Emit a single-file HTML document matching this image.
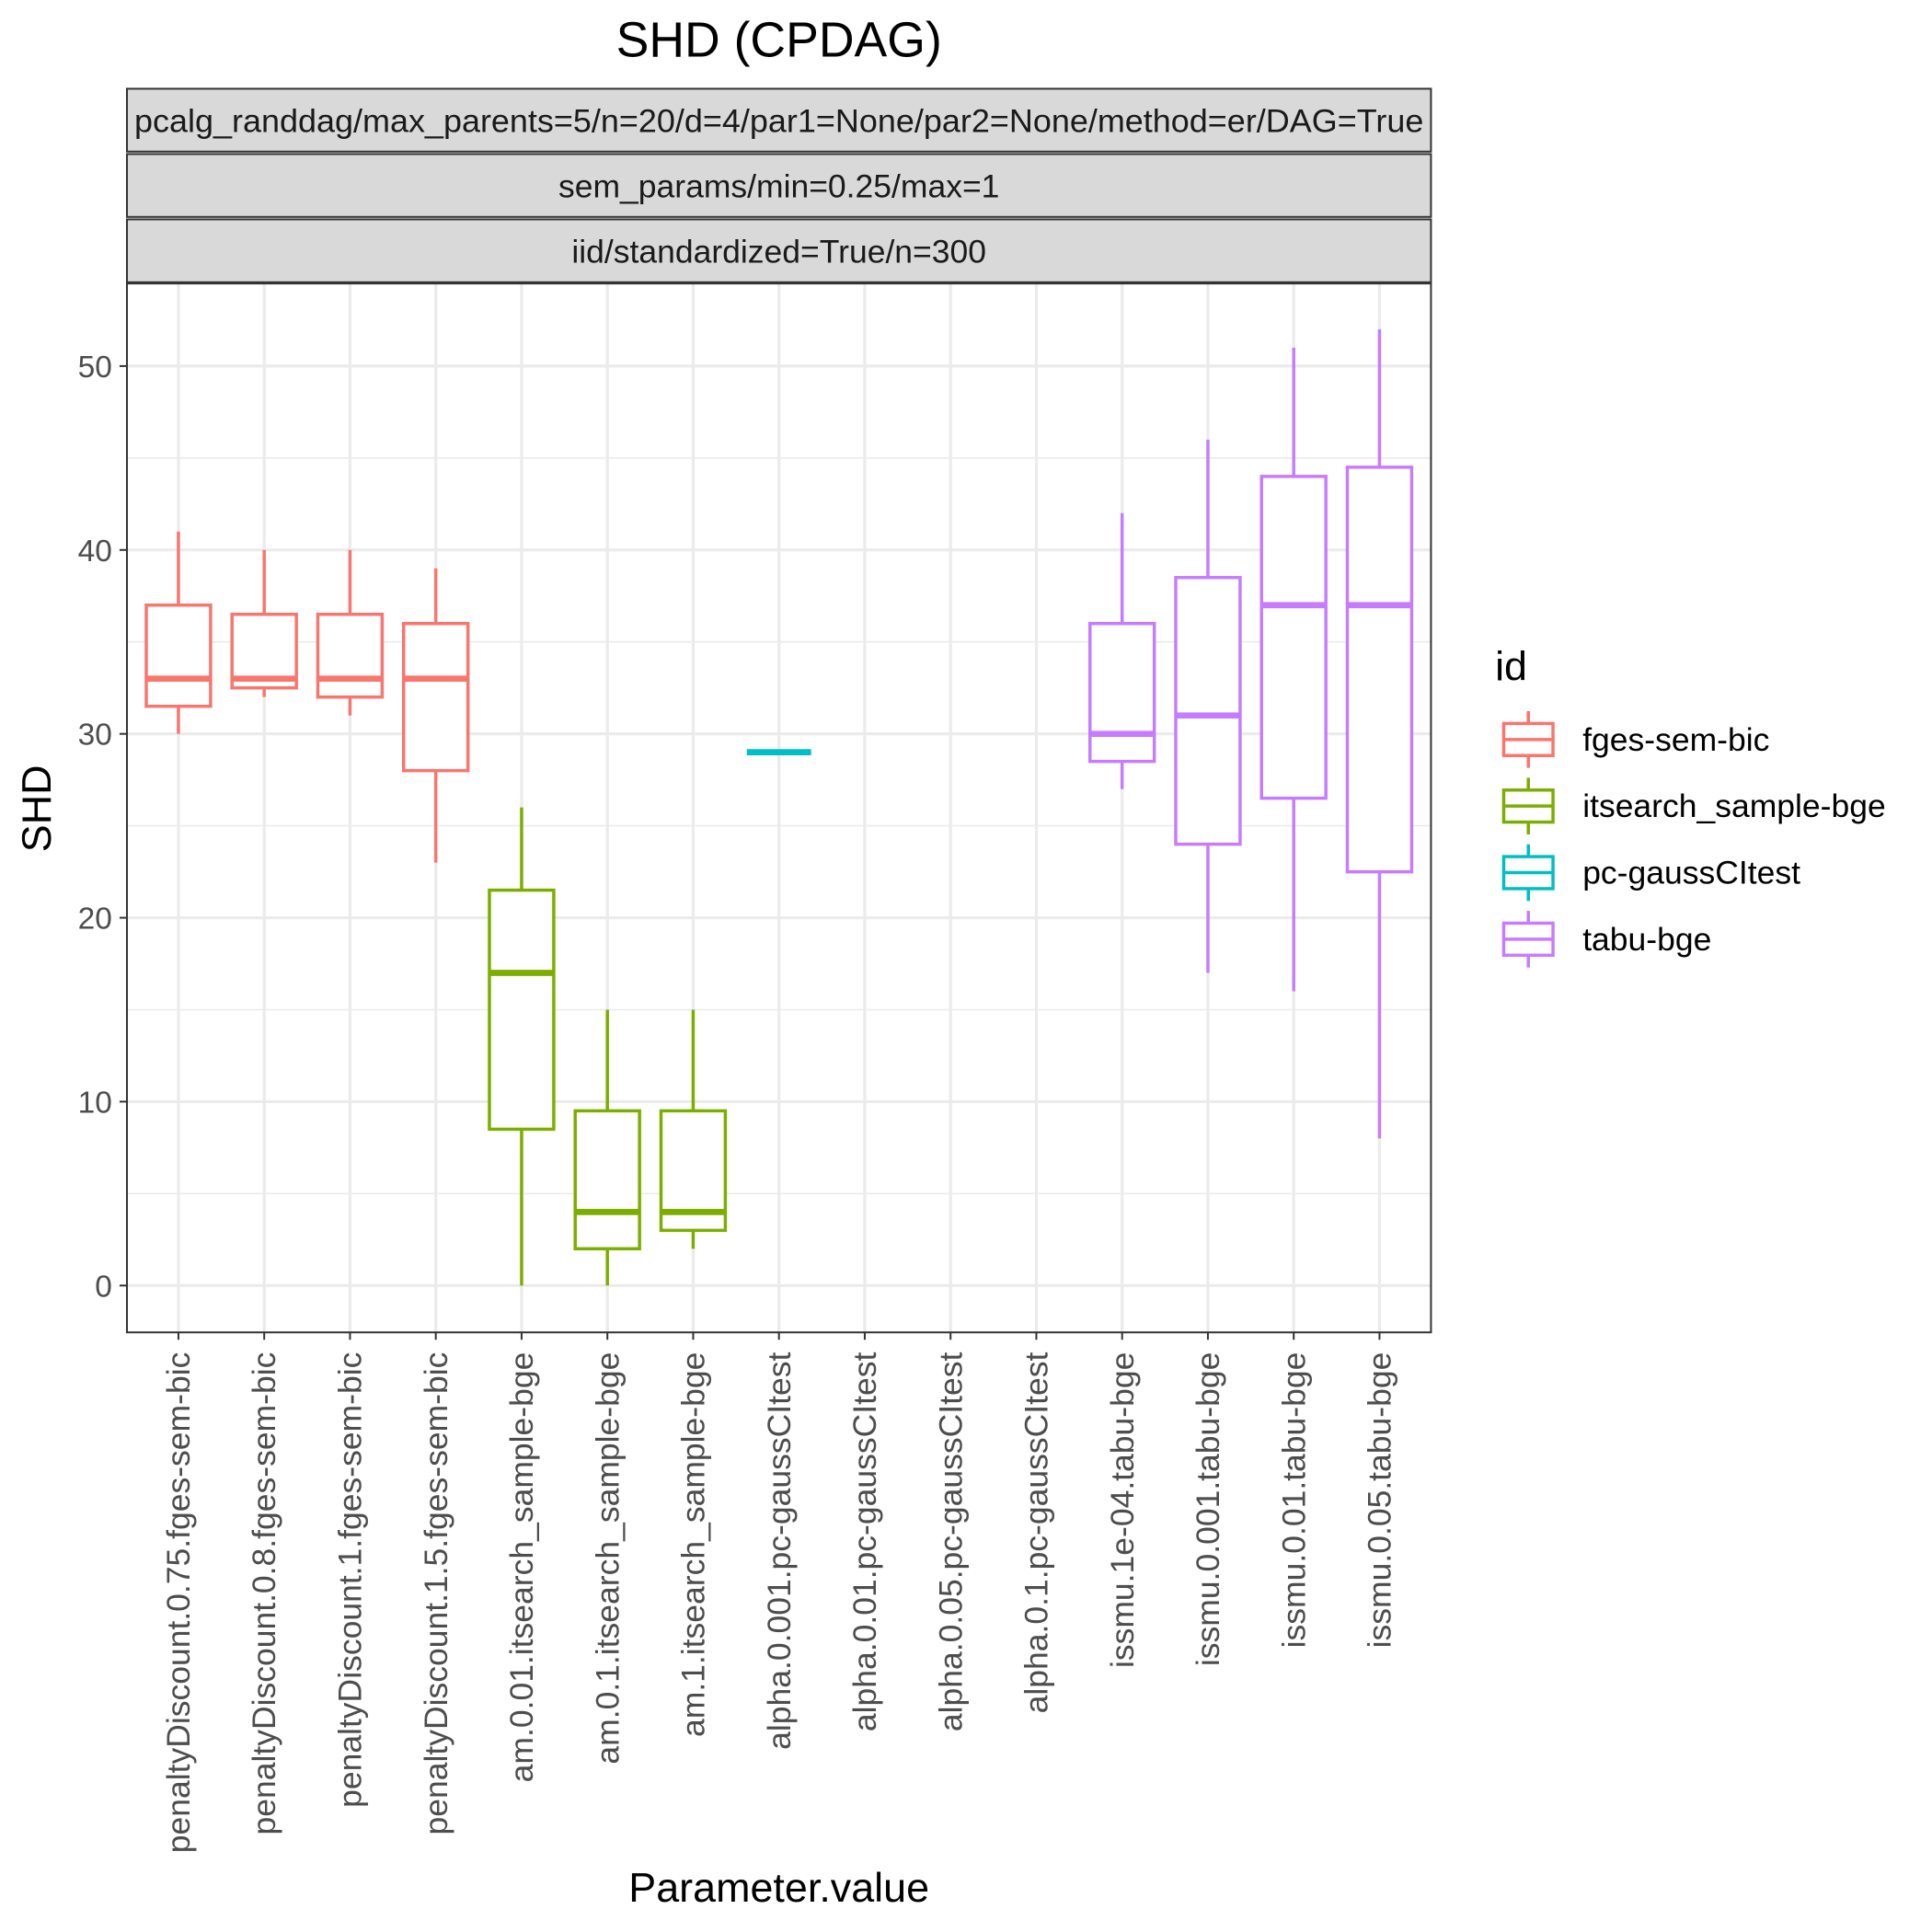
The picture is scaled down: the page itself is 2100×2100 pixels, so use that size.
<!DOCTYPE html>
<html><head><meta charset="utf-8"><style>
html,body{margin:0;padding:0;background:#fff}
svg{display:block;font-family:"Liberation Sans",sans-serif}
</style></head><body>
<svg id="chart" width="2100" height="2100" viewBox="0 0 1567.5 1567.5" xmlns="http://www.w3.org/2000/svg">
<rect width="1568" height="1568" fill="#fff"/>
<text x="632" y="46" font-size="40" text-anchor="middle" fill="#000">SHD (CPDAG)</text>
<g>
<rect x="103" y="72" width="1058" height="51" fill="#d9d9d9" stroke="#333" stroke-width="1.5"/>
<text x="632" y="107" font-size="26.5" text-anchor="middle" fill="#1a1a1a" textLength="1046" lengthAdjust="spacingAndGlyphs">pcalg_randdag/max_parents=5/n=20/d=4/par1=None/par2=None/method=er/DAG=True</text>
<rect x="103" y="125" width="1058" height="51" fill="#d9d9d9" stroke="#333" stroke-width="1.5"/>
<text x="632" y="160" font-size="26.5" text-anchor="middle" fill="#1a1a1a">sem_params/min=0.25/max=1</text>
<rect x="103" y="178" width="1058" height="51" fill="#d9d9d9" stroke="#333" stroke-width="1.5"/>
<text x="632" y="213" font-size="26.5" text-anchor="middle" fill="#1a1a1a">iid/standardized=True/n=300</text>
</g>
<g id="grid"></g>
<g id="boxes"></g>
<rect x="103" y="230" width="1058" height="851" fill="none" stroke="#333" stroke-width="1.5"/>
<g id="axes"></g>
<text x="632" y="1543" font-size="33.5" text-anchor="middle" fill="#000">Parameter.value</text>
<text transform="translate(41,656) rotate(-90)" font-size="33.5" text-anchor="middle" fill="#000">SHD</text>
<g id="legend"></g>
</svg>
<script>
const categories = ["penaltyDiscount.0.75.fges-sem-bic","penaltyDiscount.0.8.fges-sem-bic","penaltyDiscount.1.fges-sem-bic","penaltyDiscount.1.5.fges-sem-bic","am.0.01.itsearch_sample-bge","am.0.1.itsearch_sample-bge","am.1.itsearch_sample-bge","alpha.0.001.pc-gaussCItest","alpha.0.01.pc-gaussCItest","alpha.0.05.pc-gaussCItest","alpha.0.1.pc-gaussCItest","issmu.1e-04.tabu-bge","issmu.0.001.tabu-bge","issmu.0.01.tabu-bge","issmu.0.05.tabu-bge"];
const groups = ["fges-sem-bic","fges-sem-bic","fges-sem-bic","fges-sem-bic","itsearch_sample-bge","itsearch_sample-bge","itsearch_sample-bge","pc-gaussCItest",null,null,null,"tabu-bge","tabu-bge","tabu-bge","tabu-bge"];
const whiskerLow = [30,32,31,23,0,0,2,29,null,null,null,27,17,16,8];
const q1 = [31.5,32.5,32,28,8.5,2,3,29,null,null,null,28.5,24,26.5,22.5];
const median = [33,33,33,33,17,4,4,29,null,null,null,30,31,37,37];
const q3 = [37,36.5,36.5,36,21.5,9.5,9.5,29,null,null,null,36,38.5,44,44.5];
const whiskerHigh = [41,40,40,39,26,15,15,29,null,null,null,42,46,51,52];
const yTicks = [0,10,20,30,40,50];
const yMinor = [5,15,25,35,45];
const legendIds = ["fges-sem-bic","itsearch_sample-bge","pc-gaussCItest","tabu-bge"];
const legendColors = ["#F8766D","#7CAE00","#00BFC4","#C77CFF"];

const NS="http://www.w3.org/2000/svg";
const x0=103,x1=1161;
const yScale=v=>1043-v*(1043-297)/50;
const unit=(x1-x0)/(categories.length-1+1.2);
const xScale=i=>x0+unit*(0.6+i);
const colorOf=g=>legendColors[legendIds.indexOf(g)];
function mk(tag,attrs,parent){const e=document.createElementNS(NS,tag);for(const k in attrs)e.setAttribute(k,attrs[k]);parent.appendChild(e);return e;}

const grid=document.getElementById('grid');
yMinor.forEach(v=>{const l=mk('line',{x1:x0,x2:x1,y1:yScale(v),y2:yScale(v),stroke:'#ebebeb','stroke-width':1.2},grid);

});
yTicks.forEach(v=>{const l=mk('line',{x1:x0,x2:x1,y1:yScale(v),y2:yScale(v),stroke:'#ebebeb','stroke-width':2.4},grid);

});
categories.forEach((c,i)=>{const l=mk('line',{x1:xScale(i),x2:xScale(i),y1:230,y2:1081,stroke:'#ebebeb','stroke-width':2.4},grid);

});

const boxes=document.getElementById('boxes');
const bw=unit*0.75;
categories.forEach((c,i)=>{
  if(groups[i]===null)return;
  const col=colorOf(groups[i]);const cx=xScale(i);
  const g=mk('g',{},boxes);
  
  
  mk('line',{x1:cx,x2:cx,y1:yScale(whiskerHigh[i]),y2:yScale(q3[i]),stroke:col,'stroke-width':2.6},g);
  mk('line',{x1:cx,x2:cx,y1:yScale(q1[i]),y2:yScale(whiskerLow[i]),stroke:col,'stroke-width':2.6},g);
  mk('rect',{x:cx-bw/2,y:yScale(q3[i]),width:bw,height:Math.max(0,yScale(q1[i])-yScale(q3[i])),fill:'#fff',stroke:col,'stroke-width':2.6},g);
  mk('line',{x1:cx-bw/2,x2:cx+bw/2,y1:yScale(median[i]),y2:yScale(median[i]),stroke:col,'stroke-width':5},g);
});

const axes=document.getElementById('axes');
yTicks.forEach(v=>{
  mk('line',{x1:97,x2:103,y1:yScale(v),y2:yScale(v),stroke:'#333','stroke-width':1.5},axes);
  const t=mk('text',{x:91,y:yScale(v)+9,'font-size':25,'text-anchor':'end',fill:'#4d4d4d'},axes);
  t.textContent=v;
  
  
});
categories.forEach((c,i)=>{
  const x=xScale(i);
  mk('line',{x1:x,x2:x,y1:1081,y2:1087,stroke:'#333','stroke-width':1.5},axes);
  const t=mk('text',{transform:`translate(${x+9},1097) rotate(-90)`,'font-size':26.5,'text-anchor':'end',fill:'#4d4d4d'},axes);
  t.textContent=c;
  
  
});

const legend=document.getElementById('legend');
const lt=mk('text',{x:1213,y:552,'font-size':33.5,fill:'#000'},legend);
lt.textContent='id';


legendIds.forEach((id,k)=>{
  const cy=600+k*54,col=legendColors[k];
  const g=mk('g',{},legend);
  
  
  mk('line',{x1:1240,x2:1240,y1:cy-23,y2:cy+23,stroke:col,'stroke-width':2.6},g);
  mk('rect',{x:1220,y:cy-13,width:40,height:26,fill:'#fff',stroke:col,'stroke-width':2.6},g);
  mk('line',{x1:1220,x2:1260,y1:cy,y2:cy,stroke:col,'stroke-width':2.6},g);
  const t=mk('text',{x:1284,y:cy+9,'font-size':26.5,fill:'#000'},g);
  t.textContent=id;
});
</script>
</body></html>
